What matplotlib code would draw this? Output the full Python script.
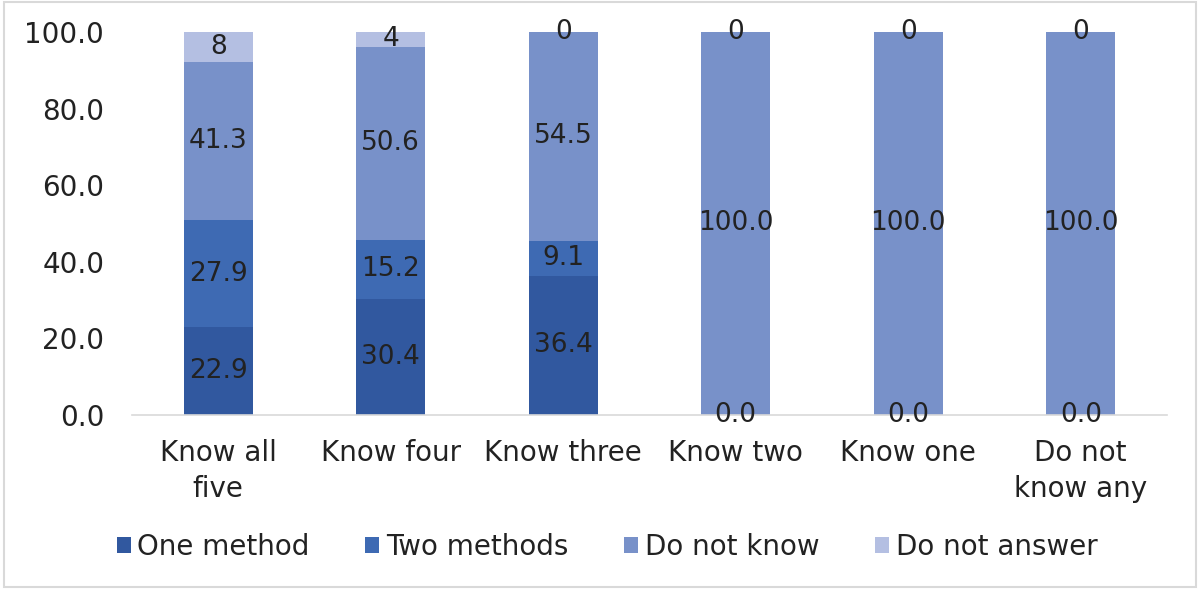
import numpy as np
import matplotlib.pyplot as plt
from matplotlib.patches import Rectangle

categories = ["Know all\nfive", "Know four", "Know three", "Know two", "Know one", "Do not\nknow any"]
one_method = [22.9, 30.4, 36.4, 0.0, 0.0, 0.0]
two_methods = [27.9, 15.2, 9.1, 0.0, 0.0, 0.0]
do_not_know = [41.3, 50.6, 54.5, 100.0, 100.0, 100.0]
do_not_answer = [8, 4, 0, 0, 0, 0]

series = [
    ("One method", one_method, "#31589f", "{:.1f}"),
    ("Two methods", two_methods, "#3e6ab3", "{:.1f}"),
    ("Do not know", do_not_know, "#7891c9", "{:.1f}"),
    ("Do not answer", do_not_answer, "#b4bfe2", "{:.0f}"),
]

plt.rcParams['font.family'] = ['DejaVu Sans']
text_col = "#222222"
fs = 20

fig = plt.figure(figsize=(12, 5.89), dpi=100)
ax = fig.add_axes([0.11, 0.2954, 0.8625, 0.6503])

x = np.arange(len(categories))
bottom = np.zeros(len(categories))
for name, vals, col, fmt in series:
    vals = np.array(vals, dtype=float)
    ax.bar(x, vals, 0.4, bottom=bottom, color=col, label=name, zorder=2)
    for xi, b, v in zip(x, bottom, vals):
        if name == "Two methods" and v == 0:
            continue
        ax.text(xi, b + v / 2, fmt.format(v), ha="center", va="center",
                fontsize=19, color=text_col, zorder=3)
    bottom += vals

ax.set_xlim(-0.5, len(categories) - 0.5)
ax.set_ylim(0, 100)
ax.set_yticks(np.arange(0, 101, 20))
ax.set_yticklabels([f"{v:.1f}" for v in np.arange(0, 101, 20)])
ax.set_xticks(x)
ax.set_xticklabels(categories, linespacing=1.4)
ax.tick_params(axis="both", length=0, labelsize=fs, colors=text_col)
ax.tick_params(axis="y", pad=20)
ax.tick_params(axis="x", pad=17)
for s in ["top", "right", "left"]:
    ax.spines[s].set_visible(False)
ax.spines["bottom"].set_color("#d9d9d9")
ax.spines["bottom"].set_linewidth(1.2)

leg = fig.legend(loc="center", bbox_to_anchor=(0.506, 0.072), ncol=4, frameon=False,
                 fontsize=fs, handlelength=0.5, handleheight=0.5, handletextpad=0.25,
                 columnspacing=2.0)
for t in leg.get_texts():
    t.set_color(text_col)

fig.patches.append(Rectangle((0.003, 0.003), 0.994, 0.994, transform=fig.transFigure,
                             fill=False, edgecolor="#d9d9d9", linewidth=1.5))

fig.savefig("out.png", dpi=100)
